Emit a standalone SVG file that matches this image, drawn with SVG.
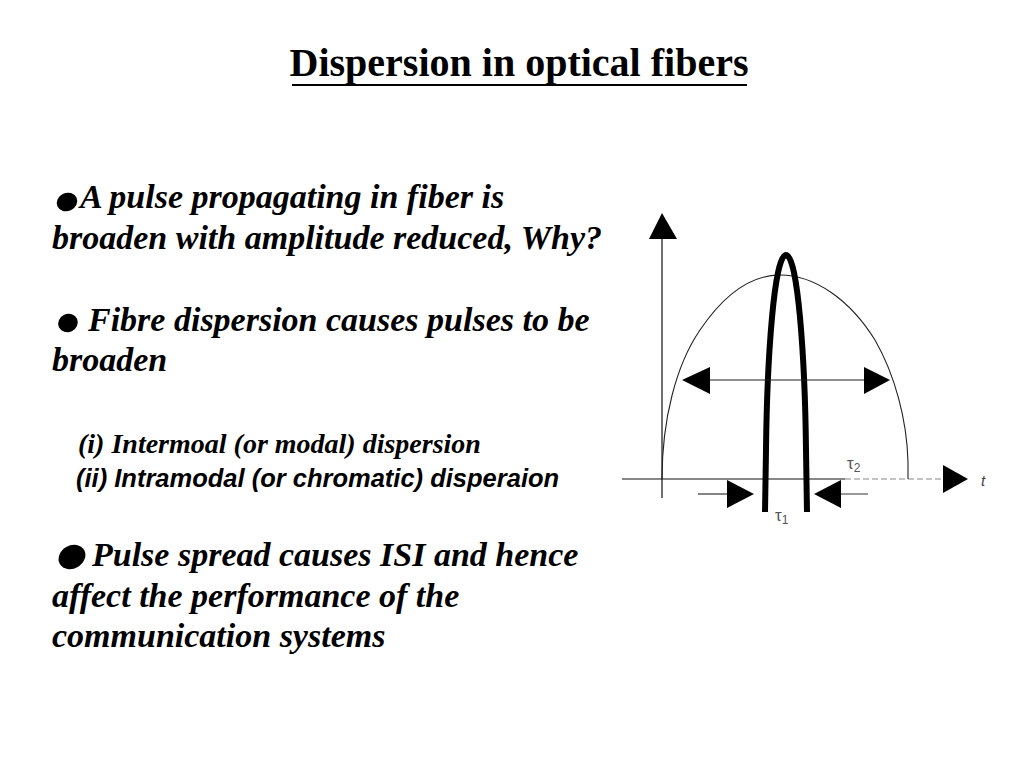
<svg xmlns="http://www.w3.org/2000/svg" width="1024" height="768" viewBox="0 0 1024 768">
<style>
.title{font-family:"Liberation Serif","Times New Roman",serif;font-weight:bold;font-size:40px;fill:#000}
.bi{font-family:"Liberation Serif","Times New Roman",serif;font-weight:bold;font-style:italic;font-size:34px;fill:#000}
.sub1{font-family:"Liberation Serif","Times New Roman",serif;font-weight:bold;font-style:italic;font-size:28px;fill:#000}
.sub2{font-family:"Liberation Sans",Arial,sans-serif;font-weight:bold;font-style:italic;font-size:25.5px;fill:#000}
.ax{stroke:#111;stroke-width:1.2;fill:none}
.thin{stroke:#222;stroke-width:1.1;fill:none}
.tau{font-family:"Liberation Sans",Arial,sans-serif;font-size:17px;fill:#555}
.head{fill:#000}
</style>
<rect width="1024" height="768" fill="#fff"/>
<g id="title">
<text class="title" x="519" y="76" text-anchor="middle">Dispersion in optical fibers</text>
<line x1="292" y1="85" x2="747" y2="85" stroke="#000" stroke-width="2"/>
</g>
<g id="bullet1">
<ellipse cx="67" cy="202" rx="10.5" ry="9" transform="rotate(-25 67 202)" fill="#000"/>
<text class="bi" x="80" y="208">A pulse propagating in fiber is</text>
<text class="bi" x="52" y="249">broaden with amplitude reduced, Why?</text>
</g>
<g id="bullet2">
<ellipse cx="68" cy="323" rx="10" ry="9" transform="rotate(-25 68 323)" fill="#000"/>
<text class="bi" x="88" y="331">Fibre dispersion causes pulses to be</text>
<text class="bi" x="52" y="371">broaden</text>
</g>
<g id="sublist">
<text class="sub1" x="78" y="453">(i) Intermoal (or modal) dispersion</text>
<text class="sub2" x="76" y="487">(ii) Intramodal (or chromatic) disperaion</text>
</g>
<g id="bullet3">
<ellipse cx="72" cy="557" rx="14" ry="11.5" transform="rotate(-30 72 557)" fill="#000"/>
<text class="bi" x="92" y="566">Pulse spread causes ISI and hence</text>
<text class="bi" x="52" y="607">affect the performance of the</text>
<text class="bi" x="52" y="647">communication systems</text>
</g>
<g id="plot">
<g id="axes">
<line class="ax" x1="662" y1="238" x2="662" y2="498"/>
<polygon class="head" points="662,213 649,239 677,239"/>
<line class="ax" x1="622" y1="479" x2="845" y2="479"/>
<line x1="845" y1="479" x2="943" y2="479" stroke="#888" stroke-width="1.1" stroke-dasharray="6 3"/>
<polygon class="head" points="968,479 943,465 943,493"/>
<text x="981" y="486" font-family="Liberation Sans, Arial, sans-serif" font-style="italic" font-size="15" fill="#444">t</text>
</g>
<g id="broad-pulse">
<path class="thin" d="M662 479 C662 420 676 365 700 330 C725 293 752 275 780 275 C815 275 850 300 875 340 C895 375 907 420 908 462 L908 479"/>
</g>
<g id="narrow-pulse">
<path d="M765 512 L766 450 C767 360 774 255 786 255 C798 255 805 360 806 450 L807 512" fill="none" stroke="#000" stroke-width="6"/>
</g>
<g id="connectors">
<line class="thin" x1="700" y1="380" x2="870" y2="380"/>
<polygon class="head" points="682,380 710,367 710,394"/>
<polygon class="head" points="890,380 864,367 864,394"/>
<line class="thin" x1="698" y1="494" x2="730" y2="494"/>
<polygon class="head" points="754,494 727,480 727,508"/>
<line x1="836" y1="494" x2="868" y2="494" stroke="#444" stroke-width="1.1"/>
<polygon class="head" points="814,494 841,480 841,508"/>
</g>
<text class="tau" x="775" y="521">τ<tspan font-size="12" dy="3">1</tspan></text>
<text class="tau" x="847" y="469">τ<tspan font-size="12" dy="3">2</tspan></text>
</g>
</svg>
